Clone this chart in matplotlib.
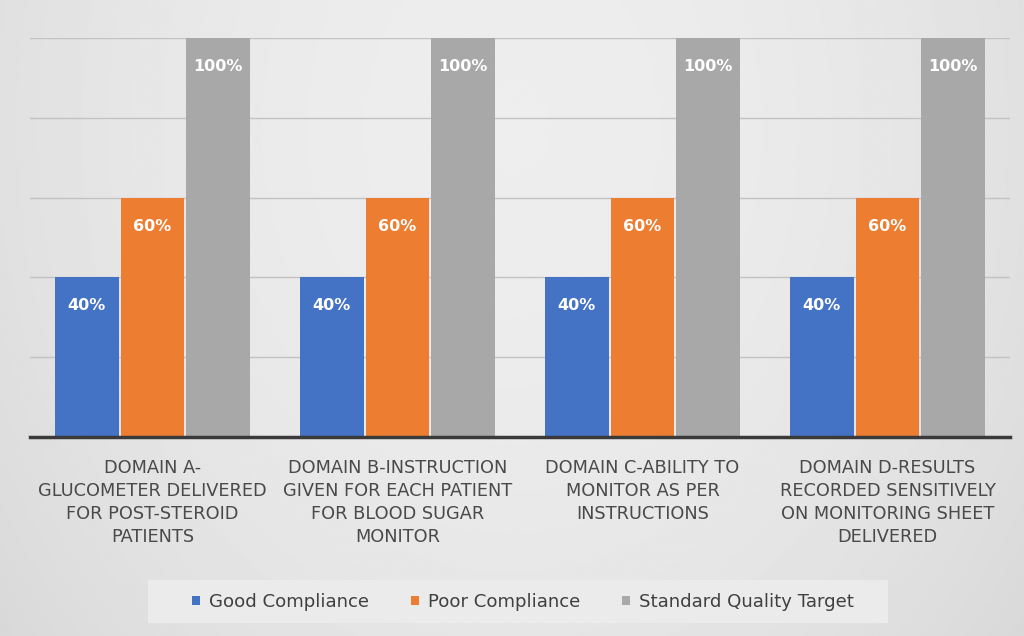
import numpy as np
import matplotlib
matplotlib.use("Agg")
import matplotlib.pyplot as plt
from matplotlib.patches import Patch, Rectangle

categories = [
    "DOMAIN A-\nGLUCOMETER DELIVERED\nFOR POST-STEROID\nPATIENTS",
    "DOMAIN B-INSTRUCTION\nGIVEN FOR EACH PATIENT\nFOR BLOOD SUGAR\nMONITOR",
    "DOMAIN C-ABILITY TO\nMONITOR AS PER\nINSTRUCTIONS",
    "DOMAIN D-RESULTS\nRECORDED SENSITIVELY\nON MONITORING SHEET\nDELIVERED",
]
series_names = ["Good Compliance", "Poor Compliance", "Standard Quality Target"]
good = [40, 40, 40, 40]
poor = [60, 60, 60, 60]
target = [100, 100, 100, 100]
colors = ["#4472C4", "#ED7D31", "#A8A8A8"]

plt.rcParams["font.family"] = ["DejaVu Sans"]

fig = plt.figure(figsize=(10.24, 6.36), dpi=100)

# soft grey backdrop, darker toward the edges
bg = fig.add_axes([0, 0, 1, 1], zorder=-10)
xx, yy = np.meshgrid(np.linspace(-1, 1, 400), np.linspace(-1, 1, 250))
shade = 0.93 - 0.05 * (xx ** 2) - 0.012 * ((yy + 0.6) ** 2)
bg.imshow(shade, cmap="gray", vmin=0, vmax=1, aspect="auto",
          extent=[0, 1, 0, 1], interpolation="bilinear")
bg.set_xlim(0, 1)
bg.set_ylim(0, 1)
bg.set_axis_off()

# legend panel
bg.add_patch(Rectangle((148 / 1024, 1 - 623 / 636), 740 / 1024, 43 / 636,
                       facecolor="#ebebeb", edgecolor="none", zorder=2))

ax = fig.add_axes([30 / 1024, 1 - 437 / 636, 980 / 1024, 399 / 636])
ax.patch.set_alpha(0)

x = np.arange(len(categories))
w = 0.26
for i, (vals, c) in enumerate(zip([good, poor, target], colors)):
    bars = ax.bar(x + (i - 1) * (w + 0.008), vals, w, color=c, zorder=3,
                  label=series_names[i])
    for b, v in zip(bars, vals):
        ax.annotate(f"{v}%", (b.get_x() + b.get_width() / 2, v),
                    xytext=(0, -20.5), textcoords="offset points",
                    ha="center", va="center", color="white",
                    fontsize=11.5, fontweight="bold", zorder=4)

ax.set_xlim(-0.5, len(categories) - 0.5)
ax.set_ylim(0, 100)
ax.set_yticks([0, 20, 40, 60, 80, 100])
ax.yaxis.grid(True, color="#c2c2c2", linewidth=1.0, zorder=0)
ax.tick_params(axis="y", left=False, labelleft=False)
ax.tick_params(axis="x", bottom=False, pad=12)
ax.set_xticks(x)
ax.set_xticklabels(categories, fontsize=12.8, color="#4a4a4a",
                   linespacing=1.36, va="top")
for s in ["top", "right", "left"]:
    ax.spines[s].set_visible(False)
ax.spines["bottom"].set_color("#3a3a3a")
ax.spines["bottom"].set_linewidth(2.5)
ax.spines["bottom"].set_zorder(5)

handles = [Patch(facecolor=c, edgecolor="none") for c in colors]
leg = fig.legend(handles, series_names, loc="center",
                 bbox_to_anchor=(523 / 1024, 1 - 602 / 636), ncol=3,
                 frameon=False, fontsize=13.1, handlelength=0.45,
                 handleheight=0.45, handletextpad=0.5, columnspacing=2.3,
                 labelcolor="#404040")

fig.savefig("out.png", dpi=100)
